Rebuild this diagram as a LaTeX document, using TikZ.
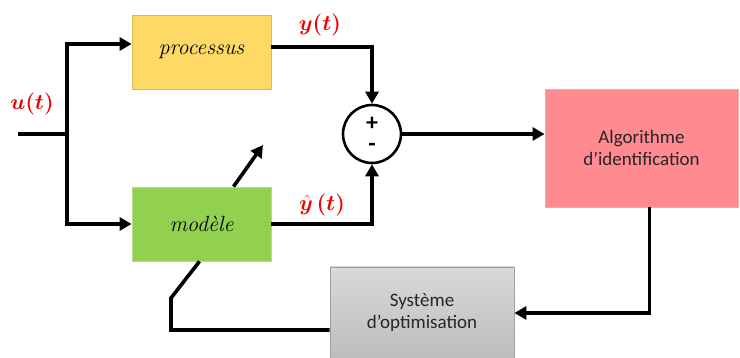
\RequirePackage{fix-cm}
\documentclass[tikz,border=0pt]{standalone}
\usepackage{fontspec}
\usepackage{amsmath}
\usepackage{bm}
\setsansfont{Carlito}
\usetikzlibrary{arrows.meta}
\definecolor{jaune}{HTML}{FFD966}
\definecolor{vert}{HTML}{92D050}
\definecolor{rose}{HTML}{FF8A8F}
\definecolor{grisclair}{HTML}{D9D9D9}
\definecolor{grisfonce}{HTML}{BDBDBD}
\definecolor{rouge}{HTML}{F00000}

\begin{document}
\begin{tikzpicture}[x=1pt,y=-1pt]
		\useasboundingbox (0,0) rectangle (740,358);
		\tikzstyle{bloc}=[draw, line width=0.8pt, inner sep=0pt, minimum width=139pt, minimum height=74pt]
		\tikzstyle{fleche}=[line width=3.6pt, -{Triangle[length=12pt,width=13pt]}]
		\tikzstyle{trait}=[line width=3.6pt]
		\tikzstyle{signal}=[text=rouge, font=\fontsize{22}{26}\selectfont]
		\tikzstyle{texte}=[font=\sffamily\fontsize{19}{22}\selectfont, align=center, text=black!85]
		\tikzstyle{signe}=[inner sep=0pt, font=\sffamily\bfseries\fontsize{24}{26}\selectfont]

		% blocs
		\node[bloc, fill=jaune, draw=jaune!85!black, font=\itshape\fontsize{22}{26}\selectfont] (proc) at (201.5,52) {processus};
		\node[bloc, fill=vert, draw=vert!70!white, font=\itshape\fontsize{22}{26}\selectfont] (mod) at (201.5,224) {modèle};
		\node[draw, circle, fill=white, line width=2.6pt, minimum size=58pt, inner sep=0pt] (som) at (372,134) {};
		\node[signe] (plus) at (372,124) {+};
		\node[signe] (moins) at (372,147) {-};
		\node[bloc, texte, fill=rose, draw=rose!80!white, minimum width=193pt, minimum height=118pt] (algo) at (641.5,148) {Algorithme\\d’identification};
		\node[bloc, texte, draw=gray!75, top color=grisclair, bottom color=grisfonce, minimum width=184pt, minimum height=92pt] (opt) at (422,313) {Système\\d’optimisation};

		% signaux
		\node[signal] (u) at (32,104) {$\bm{u(t)}$};
		\node[signal] (y) at (320,25) {$\bm{y(t)}$};
		\node[signal] (yh) at (322,205) {$\bm{\hat{y}\,(t)}$};

		\coordinate (entree) at (18,134);
		\coordinate (noeud) at (67,134);
		\coordinate (coude) at (171,298);
		\coordinate (reglage) at (263,145);

		% connexions
		\draw[trait] (entree) -- (noeud);
		\draw[fleche] (noeud) |- ([yshift=8pt]proc.west);
		\draw[fleche] (noeud) |- (mod.west);
		\draw[fleche] ([yshift=5pt]proc.east) -| (som.north);
		\draw[fleche] (mod.east) -| (som.south);
		\draw[fleche] (som.east) -- (som.east -| algo.west);
		\draw[fleche] ([xshift=8pt]algo.south) |- (opt.east);
		\draw[trait] ([yshift=-17pt]opt.west) -| (coude) -- ([xshift=-2pt]mod.south);
		\draw[fleche] ([xshift=32pt]mod.north) -- (reglage);
\end{tikzpicture}
\end{document}
